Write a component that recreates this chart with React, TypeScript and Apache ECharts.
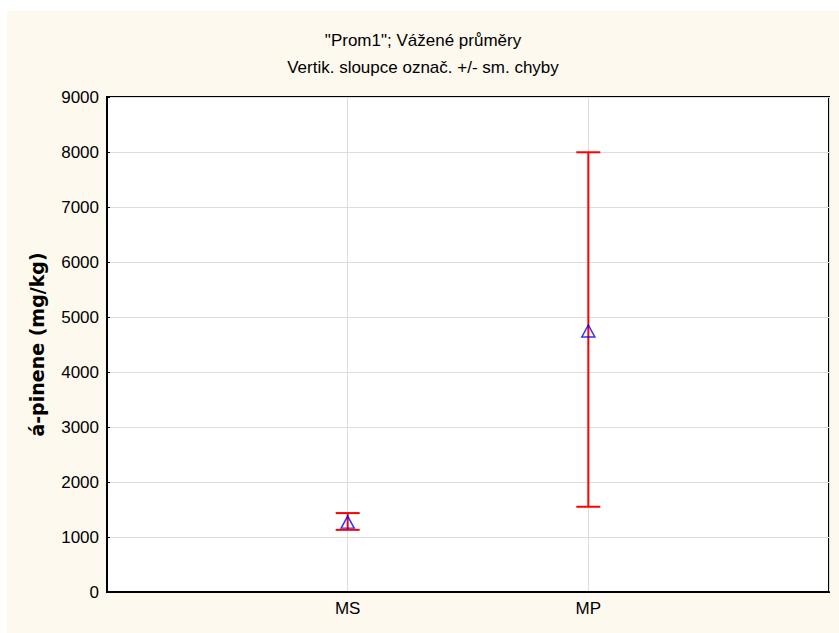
import React, { useEffect, useRef } from "react";
import * as echarts from "echarts";

const categories = ["MS", "MP"];
const means = [1270, 4745];
const lowers = [1130, 1550];
const uppers = [1435, 7995];
const yTicks = [0, 1000, 2000, 3000, 4000, 5000, 6000, 7000, 8000, 9000];

export default function App() {
  const ref = useRef<HTMLDivElement>(null);
  useEffect(() => {
    if (!ref.current) return;
    const chart = echarts.init(ref.current, undefined, { renderer: "svg" });
    const font = "Liberation Sans, Arial, sans-serif";
    const errData = categories.map((_, i) => [i + 1, lowers[i], uppers[i]]);
    const meanData = categories.map((_, i) => [i + 1, means[i]]);
    chart.setOption({
      animation: false,
      backgroundColor: "#FDF9EF",
      textStyle: { fontFamily: font },
      title: [
        {
          text: '"Prom1"; Vážené průměry',
          left: "center",
          top: 16,
          textStyle: { fontSize: 17, fontWeight: "normal", color: "#000", fontFamily: font },
        },
        {
          text: "Vertik. sloupce označ. +/- sm. chyby",
          left: "center",
          top: 43,
          textStyle: { fontSize: 17, fontWeight: "normal", color: "#000", fontFamily: font },
        },
      ],
      grid: {
        left: 100,
        right: 10,
        top: 86,
        bottom: 41,
        show: true,
        backgroundColor: "#FFFFFF",
        borderColor: "#000",
        borderWidth: 2,
      },
      xAxis: {
        type: "value",
        min: 0,
        max: 3,
        interval: 1,
        axisLine: { show: true, lineStyle: { color: "#000", width: 2 } },
        axisTick: { show: false },
        splitLine: { show: true, lineStyle: { color: "#dddddd", width: 1 } },
        axisLabel: {
          color: "#000",
          fontSize: 17,
          fontFamily: font,
          margin: 8,
          formatter: (v: number) => (v >= 1 && v <= categories.length ? categories[v - 1] : ""),
        },
      },
      yAxis: {
        type: "value",
        min: yTicks[0],
        max: yTicks[yTicks.length - 1],
        interval: 1000,
        name: "á-pinene (mg/kg)",
        nameLocation: "middle",
        nameGap: 61,
        nameTextStyle: {
          fontSize: 19,
          fontWeight: "bold",
          color: "#000",
          fontFamily: "DejaVu Sans, sans-serif",
        },
        axisLine: { show: true, lineStyle: { color: "#000", width: 2 } },
        axisTick: { show: true, inside: true, length: 3, lineStyle: { color: "#000" } },
        splitLine: { show: true, lineStyle: { color: "#dddddd", width: 1 } },
        axisLabel: {
          color: "#000",
          fontSize: 17,
          fontFamily: font,
          margin: 8,
          formatter: (v: number) => String(v),
        },
      },
      series: [
        {
          type: "custom",
          data: errData,
          renderItem: (params: any, api: any) => {
            const x = api.value(0);
            const lo = api.coord([x, api.value(1)]);
            const hi = api.coord([x, api.value(2)]);
            const hw = 12;
            const style = { stroke: "#FF0000", lineWidth: 2 };
            return {
              type: "group",
              children: [
                { type: "line", shape: { x1: lo[0], y1: lo[1], x2: hi[0], y2: hi[1] }, style },
                { type: "line", shape: { x1: hi[0] - hw, y1: hi[1], x2: hi[0] + hw, y2: hi[1] }, style },
                { type: "line", shape: { x1: lo[0] - hw, y1: lo[1], x2: lo[0] + hw, y2: lo[1] }, style },
              ],
            };
          },
          z: 2,
        },
        {
          type: "scatter",
          data: meanData,
          symbol: "triangle",
          symbolSize: [13, 12],
          itemStyle: { color: "rgba(0,0,0,0)", borderColor: "#0000FF", borderWidth: 1.5 },
          z: 3,
        },
      ],
    });
    return () => chart.dispose();
  }, []);
  return (
    <div
      ref={ref}
      style={{ position: "absolute", left: 7, top: 11, width: 832, height: 622 }}
    />
  );
}
